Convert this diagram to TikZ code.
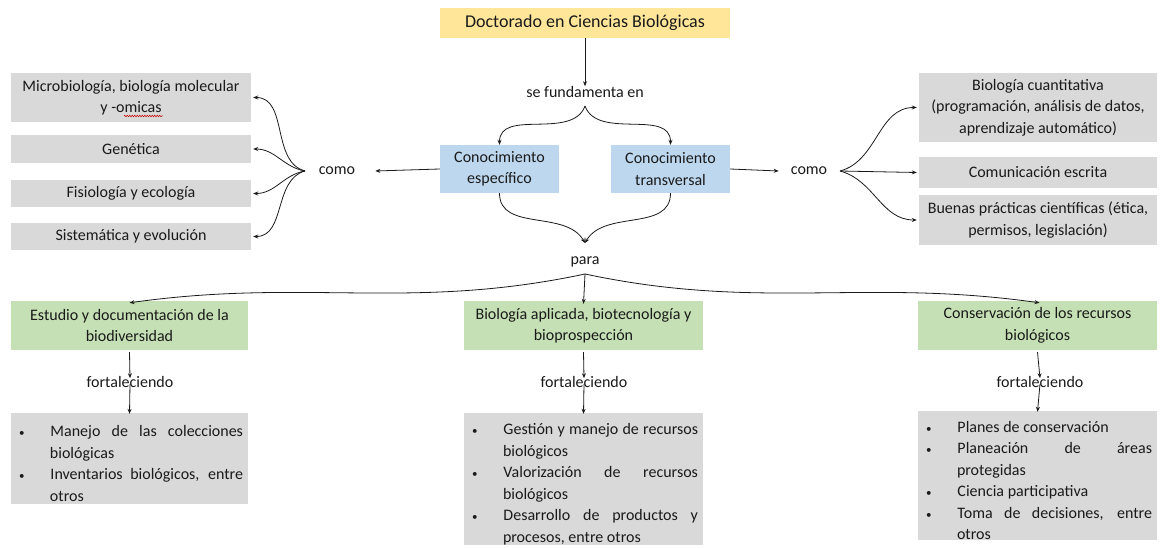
\documentclass[tikz,border=0pt]{standalone}
\usepackage{fontspec}
\setmainfont{Carlito}
\usetikzlibrary{arrows.meta,decorations.pathmorphing}
\definecolor{cyel}{HTML}{FFE699}
\definecolor{cblue}{HTML}{BDD7EE}
\definecolor{cgreen}{HTML}{C5E0B4}
\definecolor{cgray}{HTML}{D9D9D9}
\definecolor{ctext}{HTML}{1A1A1A}
\newcommand{\smallbul}{{\fontsize{11}{11}\selectfont\textbullet}}
\newenvironment{blist}{\begin{list}{\smallbul}{%
  \setlength{\leftmargin}{39pt}\setlength{\rightmargin}{5pt}%
  \setlength{\labelwidth}{5pt}\setlength{\labelsep}{26pt}%
  \setlength{\itemsep}{0pt}\setlength{\parsep}{0pt}%
  \setlength{\topsep}{0pt}\setlength{\partopsep}{0pt}}}{\end{list}}
\begin{document}
\begin{tikzpicture}[x=1pt,y=-1pt,
  txt/.style={font=\fontsize{16}{21.5}\selectfont, text=ctext, inner sep=0pt},
  bx/.style={txt, align=center},
  gbox/.style={bx, fill=cgray},
  lbox/.style={txt, fill=cgray, align=justify},
  lbl/.style={txt},
  arr/.style={line width=0.8pt, draw=ctext, -{Stealth[length=5pt,width=4pt]}}]
\useasboundingbox (0,0) rectangle (1161,548);

% top
\node[bx, fill=cyel, minimum width=290, minimum height=30, font=\fontsize{18}{21}\selectfont] (doc) at (585,23) {Doctorado en Ciencias Biológicas};
\node[lbl] (fund) at (585,92) {se fundamenta en};
\coordinate (ftip) at (585,106);
\node[bx, fill=cblue, minimum width=119, minimum height=48] (esp) at (499.5,169) {Conocimiento\\específico};
\node[bx, fill=cblue, minimum width=119, minimum height=48] (tra) at (670.5,169) {Conocimiento\\transversal};

% left
\node[lbl] (comoL) at (337,171) {como};
\coordinate (fanL) at (305,171);
\node[gbox, minimum width=240, minimum height=49] (m1) at (131,97.5) {Microbiología, biología molecular\\y -omicas};
\node[gbox, minimum width=240, minimum height=28] (m2) at (131,149) {Genética};
\node[gbox, minimum width=240, minimum height=27] (m3) at (131,193.5) {Fisiología y ecología};
\node[gbox, minimum width=240, minimum height=27] (m4) at (131,236.5) {Sistemática y evolución};

% right
\node[lbl] (comoR) at (809,171) {como};
\coordinate (fanR) at (840,171);
\node[gbox, minimum width=238, minimum height=69] (r1) at (1038,107.5) {Biología cuantitativa\\(programación, análisis de datos,\\aprendizaje automático)};
\node[gbox, minimum width=238, minimum height=31] (r2) at (1038,172.5) {Comunicación escrita};
\node[gbox, minimum width=238, minimum height=50] (r3) at (1038,220) {Buenas prácticas científicas (ética,\\permisos, legislación)};

% para
\coordinate (ptip) at (585,243);
\node[lbl] (para) at (585,262) {para};
\coordinate (qtip) at (585,274);

% green
\node[bx, fill=cgreen, minimum width=237, minimum height=49] (g1) at (129.5,325.5) {Estudio y documentación de la\\biodiversidad};
\node[bx, fill=cgreen, minimum width=239, minimum height=49] (g2) at (583.5,325.5) {Biología aplicada, biotecnología y\\bioprospección};
\node[bx, fill=cgreen, minimum width=239, minimum height=49] (g3) at (1037.5,325.5) {Conservación de los recursos\\biológicos};

\node[lbl] (f1) at (130,382) {fortaleciendo};
\node[lbl] (f2) at (584,382) {fortaleciendo};
\node[lbl] (f3) at (1040,382) {fortaleciendo};

\node[lbox, minimum width=237, minimum height=91, text width=237pt] (b1) at (129.5,458.5) {\begin{blist}
\item Manejo de las colecciones\linebreak biológicas
\item Inventarios biológicos, entre\linebreak otros
\end{blist}};
\node[lbox, minimum width=239, minimum height=132, text width=239pt] (b2) at (583.5,479) {\begin{blist}
\item Gestión y manejo de recursos\linebreak biológicos
\item Valorización de recursos\linebreak biológicos
\item Desarrollo de productos y\linebreak procesos, entre otros
\end{blist}};
\node[lbox, minimum width=239, minimum height=125, text width=239pt] (b3) at (1037.5,475.5) {\begin{blist}
\item Planes de conservación
\item Planeación de áreas\linebreak protegidas
\item Ciencia participativa
\item Toma de decisiones, entre\linebreak otros
\end{blist}};

% spellcheck squiggle
\draw[red!80!black, line width=0.5pt, decorate, decoration={snake, amplitude=0.8pt, segment length=2.5pt}] (124,116) -- (163,116);

% connectors
\draw[arr] (doc.south) -- (fund.north);
\draw[arr] (ftip) to[out=-110,in=90] (esp.north);
\draw[arr] (ftip) to[out=-70,in=90] (tra.north);
\draw[arr] (esp.west) -- ([xshift=20pt]comoL.east);
\draw[arr] (tra.east) -- ([xshift=-12pt]comoR.west);
\draw[arr] (fanL) to[out=165,in=0] ([xshift=2pt]m1.east);
\draw[arr] (fanL) to[out=170,in=0] ([xshift=2pt]m2.east);
\draw[arr] (fanL) to[out=190,in=0] ([xshift=2pt]m3.east);
\draw[arr] (fanL) to[out=195,in=0] ([xshift=2pt]m4.east);
\draw[arr] (fanR) to[out=15,in=180] ([xshift=-2pt]r1.west);
\draw[arr] (fanR) -- ([xshift=-2pt]r2.west);
\draw[arr] (fanR) to[out=-15,in=180] ([xshift=-2pt]r3.west);
\draw[arr] (esp.south) to[out=-90,in=120] (ptip);
\draw[arr] (tra.south) to[out=-90,in=60] (ptip);
\draw[arr] (qtip) to[out=192,in=8] ([yshift=-2pt]g1.north);
\draw[arr] (qtip) -- ([yshift=-3pt]g2.north);
\draw[arr] (qtip) to[out=-12,in=172] ([xshift=2pt,yshift=-2pt]g3.north);
\foreach \i in {1,2,3}{
  \draw[arr] ([yshift=-2pt]g\i.south) -- ([yshift=-2pt]f\i.north);
  \draw[arr] ([yshift=4pt]f\i.south) -- ([yshift=-1pt]b\i.north);
}
\end{tikzpicture}
\end{document}
